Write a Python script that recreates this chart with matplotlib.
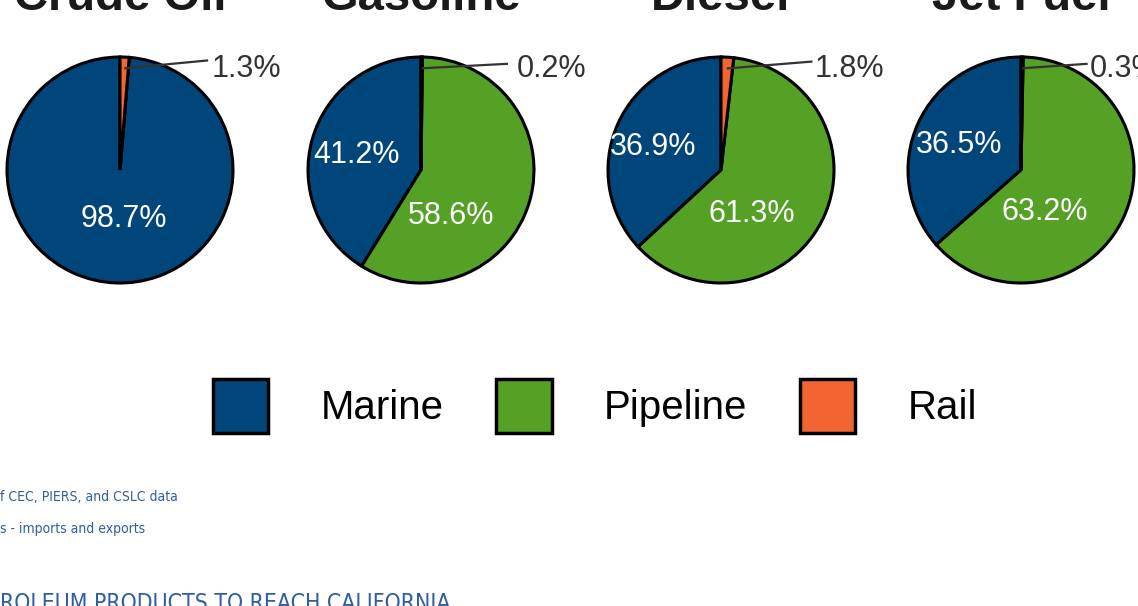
import numpy as np
import matplotlib.pyplot as plt
from matplotlib.patches import Patch

# data
products = ["Crude Oil", "Gasoline", "Diesel", "Jet Fuel"]
modes = ["Marine", "Pipeline", "Rail"]
marine = [98.7, 41.2, 36.9, 36.5]
pipeline = [0.0, 58.6, 61.3, 63.2]
rail = [1.3, 0.2, 1.8, 0.3]
colors = ["#00467a", "#55a125", "#f26532"]

# layout (pixels / radius units)
W, H = 1138, 606
centers_x = [120, 421, 721, 1021]
center_y = 170
radius = 113
# inner label offsets (radius units): marine, pipeline
marine_pos = [(0.03, -0.43), (-0.57, 0.13), (-0.60, 0.20), (-0.55, 0.22)]
pipe_pos = [None, (0.27, -0.41), (0.27, -0.39), (0.21, -0.37)]
# outside rail label: line end, text left x, text y
rail_line_end = [(0.78, 0.97), (0.77, 0.94), (0.81, 0.96), (0.59, 0.94)]
rail_text_x = [0.81, 0.85, 0.83, 0.61]
rail_text_y = 0.89

plt.rcParams["font.family"] = ["Liberation Sans", "DejaVu Sans"]
fig = plt.figure(figsize=(W / 100, H / 100), dpi=100)

for i, name in enumerate(products):
    cx = centers_x[i]
    ax = fig.add_axes([(cx - radius) / W, (H - center_y - radius) / H,
                       2 * radius / W, 2 * radius / H])
    vals = [marine[i], pipeline[i], rail[i]]
    ax.pie(vals, colors=colors, startangle=90, counterclock=True,
           wedgeprops=dict(edgecolor="black", linewidth=2.2))
    ax.set_xlim(-1, 1)
    ax.set_ylim(-1, 1)
    ax.set_aspect("equal")
    ax.axis("off")

    mx, my = marine_pos[i]
    ax.text(mx, my, f"{marine[i]}%", color="white", fontsize=22,
            ha="center", va="center")
    if pipe_pos[i] is not None:
        px, py = pipe_pos[i]
        ax.text(px, py, f"{pipeline[i]}%", color="white", fontsize=22,
                ha="center", va="center")

    # leader line from rail wedge to label
    mid = np.deg2rad(90 - rail[i] * 3.6 / 2)
    sx, sy = 0.9 * np.cos(mid), 0.9 * np.sin(mid)
    ex, ey = rail_line_end[i]
    ax.plot([sx, ex], [sy, ey], color="#333333", lw=1.6, clip_on=False,
            solid_capstyle="butt")
    ax.text(rail_text_x[i], rail_text_y, f"{rail[i]}%", color="#333333",
            fontsize=22, ha="left", va="center", clip_on=False)

    fig.text(cx / W, (H - 10) / H, name, fontsize=34, fontweight="bold",
             color="#1a1a1a", ha="center", va="baseline")

handles = [Patch(facecolor=c, edgecolor="black", linewidth=2.5) for c in colors]
fig.legend(handles, modes, loc="center", bbox_to_anchor=(595 / W, 1 - 406 / H),
           ncol=3, frameon=False, fontsize=29, handlelength=1.375,
           handleheight=1.7, handletextpad=1.3, columnspacing=1.3)

note_font = ["DejaVu Sans"]
fig.text(0, 1 - 497 / H, "f CEC, PIERS, and CSLC data", color="#2f5da6",
         fontsize=10, family=note_font, stretch="condensed",
         ha="left", va="center")
fig.text(0, 1 - 529 / H, "s - imports and exports", color="#2f5da6",
         fontsize=10, family=note_font, stretch="condensed",
         ha="left", va="center")
fig.text(0, 1 - 603 / H, "ROLEUM PRODUCTS TO REACH CALIFORNIA", color="#2f5da6",
         fontsize=16.5, family=note_font, stretch="condensed",
         ha="left", va="center")

fig.savefig("out.png", dpi=100)
